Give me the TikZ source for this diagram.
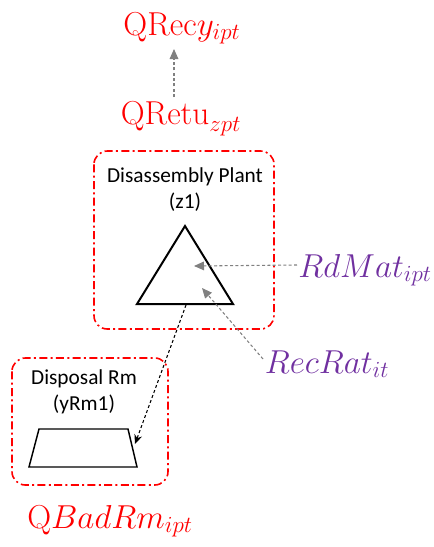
\documentclass[tikz,border=0pt]{standalone}
\usepackage[no-math]{fontspec}
\newfontfamily\calibri{Carlito}
\usetikzlibrary{arrows.meta}
\definecolor{qred}{RGB}{255,0,0}
\definecolor{qpurple}{RGB}{112,48,160}
\definecolor{flowgray}{RGB}{128,128,128}
\begin{document}
\begin{tikzpicture}[x=0.75pt, y=-0.75pt,
    facility/.style={draw=qred, line width=1.2pt, dash pattern=on 6pt off 2.5pt on 1.5pt off 2.5pt, rounded corners=10pt},
    facname/.style={font=\calibri\fontsize{16}{19.5}\selectfont, align=center, inner sep=0pt},
    qvar/.style={text=qred, font=\fontsize{25}{29}\selectfont, anchor=base, inner sep=0pt},
    param/.style={text=qpurple, font=\fontsize{25}{29}\selectfont, anchor=base, inner sep=0pt},
    flow/.style={flowgray, dash pattern=on 2.2pt off 1.8pt, line width=0.8pt, -{Triangle[length=7.5pt,width=6.5pt]}},
    dispose/.style={black, dash pattern=on 2.2pt off 1.8pt, line width=0.8pt, -{Stealth[length=7pt,width=6pt]}}
  ]
    \useasboundingbox (0,0) rectangle (433,547);

    % --- Flussi di ritorno ---
    \node[qvar] (qrecy) at (182,35) {$\mathrm{QRec}y_{ipt}$};
    \node[qvar] (qretu) at (181,124) {$\mathrm{QRetu}_{zpt}$};
    \coordinate (retutop) at (174,97);
    \coordinate (recybottom) at (174,49);
    \draw[flow] (retutop) -- (recybottom);

    % --- Impianto di disassemblaggio ---
    \draw[facility] (94,151) rectangle (274,329);
    \node[facname] (plantname) at (185,190) {Disassembly Plant\\(z1)};
    \coordinate (apex) at (185,226);
    \coordinate (baseleft) at (137,304);
    \coordinate (baseright) at (233,304);
    \draw[line width=1.5pt, line join=miter] (apex) -- (baseleft) -- (baseright) -- cycle;

    % --- Parametri ---
    \node[param] (rdmat) at (365,277) {$RdMat_{ipt}$};
    \node[param] (recrat) at (327,373) {$RecRat_{it}$};
    \coordinate (rdmatin) at (194,266);
    \coordinate (recratin) at (202,288);
    \coordinate (rdmatout) at (297,265);
    \coordinate (recratout) at (263,359);
    \draw[flow] (rdmatout) -- (rdmatin);
    \draw[flow] (recratout) -- (recratin);

    % --- Smaltimento ---
    \draw[facility] (12,358) rectangle (168,485);
    \node[facname] (disposalname) at (84,392) {Disposal Rm\\(yRm1)};
    \draw[line width=1.1pt] (39,429) -- (128,429) -- (137,467) -- (29,467) -- cycle;
    \coordinate (basemid) at (186,305);
    \coordinate (trapright) at (135,444);
    \draw[dispose] (basemid) -- (trapright);
    \node[qvar] (qbadrm) at (110,528) {$\mathrm{Q}BadRm_{ipt}$};
\end{tikzpicture}
\end{document}
